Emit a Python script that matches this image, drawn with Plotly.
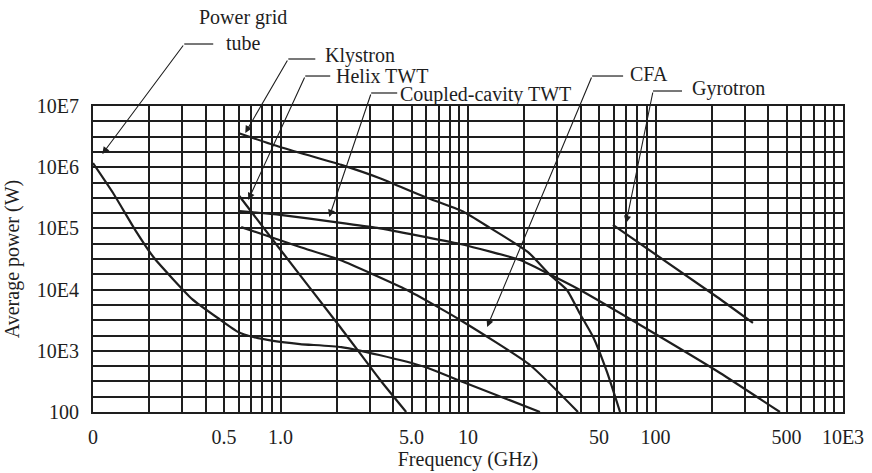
import plotly.graph_objects as go

# ---------------- data ----------------
# Frequency in GHz, average power in W
grid_tube_f = [0.1, 0.128, 0.168, 0.212, 0.338, 0.471, 0.595, 0.715, 0.914, 1.27, 2.11, 3.36, 5.9, 9.4, 24.2]
grid_tube_p = [1.17e6, 3.79e5, 9.4e4, 3.28e4, 7.0e3, 3.31e3, 2.03e3, 1.68e3, 1.45e3, 1.29e3, 1.15e3, 853, 543, 309, 100]

klystron_f = [0.595, 0.996, 2.11, 3.36, 5.9, 9.4, 13.1, 20.9, 27.4, 33.7, 39.6, 46.5, 55.1, 64.7]
klystron_p = [3.62e6, 2.14e6, 1.09e6, 6.66e5, 3.26e5, 1.89e5, 1.02e5, 4.11e4, 1.73e4, 9.85e3, 3.99e3, 1.68e3, 451, 100]

helix_f = [0.603, 0.937, 2.08, 3.40, 4.68]
helix_p = [3.38e5, 5.77e4, 2.45e3, 333, 100]

cc_twt_f = [0.603, 0.996, 1.96, 3.28, 9.08, 18.95, 26.4, 39.6, 102, 221, 461]
cc_twt_p = [1.92e5, 1.66e5, 1.27e5, 1.02e5, 5.56e4, 3.05e4, 1.87e4, 9.85e3, 1.81e3, 434, 100]

cfa_f = [0.617, 1.27, 2.08, 4.73, 9.08, 21.4, 38.6]
cfa_p = [1.05e5, 4.97e4, 3.05e4, 9.85e3, 3.19e3, 586, 100]

gyrotron_f = [59.3, 213, 331]
gyrotron_p = [1.14e5, 7.57e3, 2.85e3]

x_tick_values = [0.1, 0.5, 1, 5, 10, 50, 100, 500, 1000]
x_tick_labels = ["0", "0.5", "1.0", "5.0", "10", "50", "100", "500", "10E3"]
y_tick_values = [1e2, 1e3, 1e4, 1e5, 1e6, 1e7]
y_tick_labels = ["100", "10E3", "10E4", "10E5", "10E6", "10E7"]

# ---------------- figure ----------------
INK = "#1e1e1e"
FONT = "Liberation Serif"

fig = go.Figure()
for fx, py in [(grid_tube_f, grid_tube_p), (klystron_f, klystron_p), (helix_f, helix_p),
               (cc_twt_f, cc_twt_p), (cfa_f, cfa_p), (gyrotron_f, gyrotron_p)]:
    fig.add_trace(go.Scatter(x=fx, y=py, mode="lines",
                             line=dict(color=INK, width=2.2, shape="spline", smoothing=0.5),
                             showlegend=False, hoverinfo="skip"))

x_minor = [d * 10.0 ** k for k in range(-1, 3) for d in range(1, 10)] + [1000]
y_minor = [10 ** (k / 4) for k in range(8, 29)]

fig.update_xaxes(type="log", range=[-1, 3], automargin=False,
                 tickmode="array", tickvals=x_tick_values, ticktext=x_tick_labels,
                 ticks="", showgrid=True, gridcolor=INK, gridwidth=1.6,
                 minor=dict(tickmode="array", tickvals=x_minor, showgrid=True,
                            gridcolor=INK, gridwidth=1.6, ticks=""),
                 showline=True, linecolor=INK, linewidth=2, mirror=True,
                 zeroline=False, ticklabelstandoff=6,
                 tickfont=dict(family=FONT, size=20, color=INK),
                 title=dict(text="Frequency (GHz)", font=dict(family=FONT, size=20, color=INK), standoff=4))
fig.update_yaxes(type="log", range=[2, 7], automargin=False,
                 tickmode="array", tickvals=y_tick_values, ticktext=y_tick_labels,
                 ticks="", showgrid=True, gridcolor=INK, gridwidth=1.6,
                 minor=dict(tickmode="array", tickvals=y_minor, showgrid=True,
                            gridcolor=INK, gridwidth=1.6, ticks=""),
                 showline=True, linecolor=INK, linewidth=2, mirror=True,
                 zeroline=False, ticklabelstandoff=8,
                 tickfont=dict(family=FONT, size=20, color=INK),
                 title=dict(text="Average power (W)", font=dict(family=FONT, size=20, color=INK), standoff=12))

# ---------------- leader labels (paper coordinates) ----------------
labels = [
    # text, text_x, text_y, anchor, hline (x0,x1,y), tip (x,y), tail offset px (ax, ay)
    ("Power grid<br>tube", 0.2003, 1.250, "center", (0.1217, 0.1603, 1.2026), (0.0124, 0.8431), (82, -110)),
    ("Klystron", 0.307, 1.1634, "left", (0.2604, 0.2964, 1.1536), (0.2030, 0.9118), (43, -74)),
    ("Helix TWT", 0.3207, 1.098, "left", (0.2830, 0.3163, 1.098), (0.2070, 0.6928), (57, -124)),
    ("Coupled-cavity TWT", 0.4069, 1.0392, "left", (0.3709, 0.4056, 1.0425), (0.3150, 0.6373), (42, -124)),
    ("CFA", 0.7135, 1.1046, "left", (0.6655, 0.7068, 1.098), (0.5255, 0.2778), (105, -251)),
    ("Gyrotron", 0.7961, 1.0588, "left", (0.7467, 0.7854, 1.049), (0.7108, 0.6176), (27, -132)),
]
for text, tx, ty, anchor, hl, tip, off in labels:
    fig.add_annotation(text=text, x=tx, y=ty, xref="paper", yref="paper",
                       xanchor=anchor, yanchor="middle", showarrow=False,
                       font=dict(family=FONT, size=20, color=INK))
    fig.add_shape(type="line", xref="paper", yref="paper",
                  x0=hl[0], x1=hl[1], y0=hl[2], y1=hl[2], line=dict(color=INK, width=1.2))
    fig.add_annotation(text="", x=tip[0], y=tip[1], xref="paper", yref="paper",
                       ax=off[0], ay=off[1], showarrow=True, arrowhead=2,
                       arrowsize=1.3, arrowwidth=1.1, arrowcolor=INK, standoff=0)

fig.update_layout(width=872, height=473,
                  margin=dict(l=93, r=29, t=106, b=61),
                  paper_bgcolor="white", plot_bgcolor="white",
                  font=dict(family=FONT, color=INK))

fig.write_html("out.html")
